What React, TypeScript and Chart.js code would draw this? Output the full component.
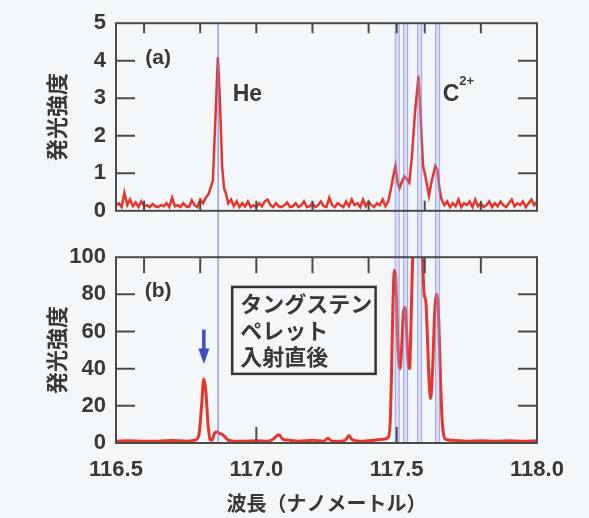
import React, { useEffect, useRef } from "react";
import { Chart, registerables } from "chart.js";
Chart.register(...registerables);

// ---------- data ----------
const waveA = [
  116.50, 116.51, 116.52, 116.53, 116.54, 116.55, 116.56, 116.57, 116.58, 116.59,
  116.60, 116.61, 116.62, 116.63, 116.64, 116.65, 116.66, 116.67, 116.68, 116.69,
  116.70, 116.71, 116.72, 116.73, 116.74, 116.75, 116.76, 116.77, 116.78, 116.79,
  116.80, 116.81, 116.82, 116.83, 116.845, 116.855, 116.863, 116.870, 116.878, 116.885,
  116.89, 116.90, 116.91, 116.92, 116.93, 116.94, 116.95, 116.96, 116.97, 116.98,
  116.99, 117.00, 117.01, 117.02, 117.03, 117.04, 117.05, 117.06, 117.07, 117.08,
  117.09, 117.10, 117.11, 117.12, 117.13, 117.14, 117.15, 117.16, 117.17, 117.18,
  117.19, 117.20, 117.21, 117.22, 117.23, 117.24, 117.25, 117.26, 117.27, 117.28,
  117.29, 117.30, 117.31, 117.32, 117.33, 117.34, 117.35, 117.36, 117.37, 117.38,
  117.39, 117.40, 117.41, 117.42, 117.43, 117.44, 117.45, 117.46, 117.47, 117.48,
  117.49, 117.496, 117.503, 117.51, 117.52, 117.528, 117.535, 117.545, 117.555, 117.565,
  117.578, 117.586, 117.594, 117.600, 117.608, 117.615, 117.625, 117.638, 117.645, 117.652,
  117.66, 117.67, 117.68, 117.69, 117.70, 117.71, 117.72, 117.73, 117.74, 117.75,
  117.76, 117.77, 117.78, 117.79, 117.80, 117.81, 117.82, 117.83, 117.84, 117.85,
  117.86, 117.87, 117.88, 117.89, 117.90, 117.91, 117.92, 117.93, 117.94, 117.95,
  117.96, 117.97, 117.98, 117.99, 118.00,
];
const intensityA = [
  0.15, 0.2, 0.1, 0.48, 0.15, 0.3, 0.12, 0.22, 0.1, 0.25,
  0.12, 0.15, 0.1, 0.18, 0.12, 0.1, 0.15, 0.12, 0.2, 0.1,
  0.35, 0.12, 0.15, 0.1, 0.2, 0.12, 0.1, 0.28, 0.15, 0.1,
  0.3, 0.2, 0.35, 0.45, 0.8, 2.6, 4.1, 3.0, 1.2, 0.6,
  0.5, 0.2, 0.3, 0.12, 0.25, 0.1, 0.2, 0.12, 0.25, 0.1,
  0.15, 0.1, 0.2, 0.12, 0.25, 0.3, 0.15, 0.1, 0.2, 0.12,
  0.1, 0.15, 0.22, 0.1, 0.12, 0.2, 0.1, 0.15, 0.25, 0.1,
  0.12, 0.2, 0.1, 0.15, 0.25, 0.12, 0.1, 0.35, 0.15, 0.1,
  0.2, 0.15, 0.1, 0.25, 0.12, 0.3, 0.15, 0.2, 0.1, 0.3,
  0.12, 0.25, 0.15, 0.1, 0.2, 0.15, 0.3, 0.12, 0.25, 0.6,
  1.0, 1.2, 0.75, 0.6, 0.8, 0.92, 0.85, 0.75, 1.5, 2.6,
  3.6, 2.4, 1.2, 1.0, 0.7, 0.4, 0.8, 1.2, 1.1, 0.6,
  0.3, 0.15, 0.25, 0.1, 0.2, 0.12, 0.3, 0.1, 0.2, 0.15,
  0.25, 0.1, 0.3, 0.12, 0.2, 0.1, 0.15, 0.25, 0.1, 0.2,
  0.12, 0.25, 0.15, 0.1, 0.2, 0.3, 0.12, 0.2, 0.15, 0.25,
  0.1, 0.2, 0.3, 0.15, 0.25,
];

const waveB = [
  116.50, 116.55, 116.60, 116.65, 116.70, 116.75, 116.78, 116.795, 116.805, 116.813,
  116.82, 116.828, 116.835, 116.842, 116.85, 116.86, 116.87, 116.88, 116.89, 116.90,
  116.92, 116.95, 117.00, 117.04, 117.06, 117.08, 117.095, 117.12, 117.15, 117.20,
  117.24, 117.255, 117.27, 117.30, 117.32, 117.33, 117.34, 117.37, 117.42, 117.45,
  117.47, 117.478, 117.484, 117.49, 117.494, 117.499, 117.505, 117.512, 117.518, 117.524,
  117.53, 117.535, 117.54, 117.546, 117.552, 117.558, 117.565, 117.585, 117.592, 117.598,
  117.604, 117.61, 117.616, 117.621, 117.628, 117.636, 117.644, 117.65, 117.656, 117.662,
  117.668, 117.675, 117.70, 117.75, 117.80, 117.85, 117.90, 117.95, 118.00,
];
const intensityB = [
  1, 1.2, 1, 1, 1.3, 1, 1.5, 4, 20, 34.5,
  28, 10, 2, 1.5, 5, 6, 5, 4.5, 3, 1.5,
  1, 1, 1.2, 1, 2, 4.5, 2, 1.5, 1, 1.5,
  1, 2.5, 1, 1, 2, 4, 2, 1, 1.5, 2,
  3, 15, 55, 90, 93, 80, 50, 40, 52, 70,
  73, 62, 45, 40, 70, 105, 125, 125, 100, 80,
  76, 55, 32, 24, 40, 72, 80, 65, 35, 12,
  4, 2, 1.5, 1, 1.2, 1, 1.2, 1, 1.2,
];

const xLabelStep = 0.5; // 116.5, 117.0, 117.5, 118.0
const innerTicksTopA = [116.6, 116.8, 117.0, 117.2, 117.4, 117.5, 117.6, 117.8];
const innerTicks02 = [116.6, 116.8, 117.0, 117.2, 117.4, 117.6, 117.8];
const innerTicksBottomB = [117.0, 117.5];
const yTicksA = [1, 2, 3, 4];
const yTicksB = [20, 40, 60, 80];
const lineWaves = [116.864, 117.502, 117.532, 117.582, 117.646];

// annotation anchors (data units)
const labelAPos = [116.65, 4.08];
const heLabelPos = [116.968, 3.1];
const cLabelPos = [117.664, 3.1];
const labelBPos = [116.65, 81.9];
const boxRange = [116.914, 117.425, 84, 37.2];
const boxTextX = 116.943;
const boxTextY = [75, 60.6, 46.3];
const boxLines = ["タングステン", "ペレット", "入射直後"];
const arrowPos = [116.813, 61, 42.5];

// ---------- styles ----------
const BG = "#f4f7fa";
const TEXT = "#383838";
const FRAME = "#4a4a4a";
const RED = "#e8352b";
const NUM_FONT = "'Liberation Sans', Arial, sans-serif";
const JP_FONT = "'Noto Sans CJK JP', 'Noto Sans CJK SC', sans-serif";

type PanelCfg = {
  linesUp: boolean;
  topTicks: number[];
  bottomTicks: number[];
  xTickLen: number;
  yTicks: number[];
  annotate: (chart: any) => void;
};

function panelPlugin(cfg: PanelCfg) {
  return {
    id: "panel",
    afterDatasetsDraw(chart: any) {
      const { ctx, chartArea: a, scales } = chart;
      const x = scales.x;
      const y = scales.y;
      ctx.save();
      // vertical reference lines
      lineWaves.forEach((w, i) => {
        const px = x.getPixelForValue(w);
        const y0 = cfg.linesUp ? 0 : a.top;
        const y1 = cfg.linesUp ? a.bottom : chart.height;
        if (i === 0) {
          ctx.strokeStyle = "rgba(120,126,225,0.75)";
          ctx.lineWidth = 1.5;
          ctx.beginPath();
          ctx.moveTo(px, y0);
          ctx.lineTo(px, y1);
          ctx.stroke();
        } else {
          ctx.fillStyle = "rgba(170,175,235,0.35)";
          ctx.fillRect(px - 2, y0, 4, y1 - y0);
          ctx.strokeStyle = "rgba(110,116,215,0.6)";
          ctx.lineWidth = 1;
          ctx.beginPath();
          ctx.moveTo(px - 2, y0);
          ctx.lineTo(px - 2, y1);
          ctx.moveTo(px + 2, y0);
          ctx.lineTo(px + 2, y1);
          ctx.stroke();
        }
      });
      // inner ticks
      ctx.strokeStyle = FRAME;
      ctx.lineWidth = 2;
      ctx.beginPath();
      cfg.topTicks.forEach((t) => {
        const px = x.getPixelForValue(t);
        ctx.moveTo(px, a.top);
        ctx.lineTo(px, a.top + cfg.xTickLen);
      });
      cfg.bottomTicks.forEach((t) => {
        const px = x.getPixelForValue(t);
        ctx.moveTo(px, a.bottom);
        ctx.lineTo(px, a.bottom - cfg.xTickLen);
      });
      cfg.yTicks.forEach((t) => {
        const py = y.getPixelForValue(t);
        ctx.moveTo(a.left, py);
        ctx.lineTo(a.left + 19, py);
        ctx.moveTo(a.right, py);
        ctx.lineTo(a.right - 19, py);
      });
      ctx.stroke();
      // frame
      ctx.strokeRect(a.left, a.top, a.right - a.left, a.bottom - a.top);
      cfg.annotate(chart);
      ctx.restore();
    },
  };
}

function baseOptions(ymax: number, step: number, pad: any, showX: boolean) {
  return {
    animation: false,
    responsive: false,
    events: [],
    layout: { padding: pad },
    plugins: { legend: { display: false }, tooltip: { enabled: false } },
    scales: {
      x: showX
        ? {
            type: "linear",
            min: 116.5,
            max: 118,
            afterFit: (s: any) => {
              s.height = 75;
            },
            grid: { display: false, drawTicks: false },
            border: { display: false },
            ticks: {
              stepSize: xLabelStep,
              autoSkip: false,
              maxRotation: 0,
              padding: 14,
              color: TEXT,
              font: { family: NUM_FONT, size: 22, weight: "bold" },
              callback: (v: any) => Number(v).toFixed(1),
            },
            title: {
              display: true,
              text: "波長（ナノメートル）",
              color: TEXT,
              font: { family: JP_FONT, size: 20, weight: "bold" },
              padding: { top: 0, bottom: 3 },
            },
          }
        : { type: "linear", min: 116.5, max: 118, display: false },
      y: {
        min: 0,
        max: ymax,
        afterFit: (s: any) => {
          s.width = 116;
        },
        grid: { display: false, drawTicks: false },
        border: { display: false },
        ticks: {
          stepSize: step,
          padding: 10,
          color: TEXT,
          font: { family: NUM_FONT, size: 22, weight: "bold" },
        },
        title: {
          display: true,
          text: "発光強度",
          color: TEXT,
          font: { family: JP_FONT, size: 22, weight: "bold" },
          padding: { top: 43, bottom: 0 },
        },
      },
    },
  };
}

function annotateA(chart: any) {
  const { ctx, scales } = chart;
  const x = scales.x;
  const y = scales.y;
  ctx.fillStyle = TEXT;
  ctx.textBaseline = "middle";
  ctx.textAlign = "center";
  ctx.font = `bold 21px ${NUM_FONT}`;
  ctx.fillText("(a)", x.getPixelForValue(labelAPos[0]), y.getPixelForValue(labelAPos[1]));
  ctx.font = `bold 23px ${NUM_FONT}`;
  ctx.fillText("He", x.getPixelForValue(heLabelPos[0]), y.getPixelForValue(heLabelPos[1]));
  ctx.textAlign = "left";
  const cx = x.getPixelForValue(cLabelPos[0]);
  const cy = y.getPixelForValue(cLabelPos[1]);
  ctx.fillText("C", cx, cy);
  const w = ctx.measureText("C").width;
  ctx.font = `bold 13px ${NUM_FONT}`;
  ctx.fillText("2+", cx + w, cy - 13);
}

function annotateB(chart: any) {
  const { ctx, scales } = chart;
  const x = scales.x;
  const y = scales.y;
  ctx.fillStyle = TEXT;
  ctx.textBaseline = "middle";
  ctx.textAlign = "center";
  ctx.font = `bold 21px ${NUM_FONT}`;
  ctx.fillText("(b)", x.getPixelForValue(labelBPos[0]), y.getPixelForValue(labelBPos[1]));
  // box
  const bx0 = x.getPixelForValue(boxRange[0]);
  const bx1 = x.getPixelForValue(boxRange[1]);
  const by0 = y.getPixelForValue(boxRange[2]);
  const by1 = y.getPixelForValue(boxRange[3]);
  ctx.strokeStyle = "#333";
  ctx.lineWidth = 2.5;
  ctx.strokeRect(bx0, by0, bx1 - bx0, by1 - by0);
  ctx.textAlign = "left";
  ctx.font = `bold 22px ${JP_FONT}`;
  boxLines.forEach((t, i) => {
    ctx.fillText(t, x.getPixelForValue(boxTextX), y.getPixelForValue(boxTextY[i]));
  });
  // arrow
  const ax = x.getPixelForValue(arrowPos[0]);
  const ay0 = y.getPixelForValue(arrowPos[1]);
  const ay1 = y.getPixelForValue(arrowPos[2]);
  ctx.fillStyle = "#3d4fc4";
  ctx.fillRect(ax - 1.75, ay0, 3.5, (ay1 - ay0) * 0.6);
  ctx.beginPath();
  ctx.moveTo(ax - 5.5, ay0 + (ay1 - ay0) * 0.55);
  ctx.lineTo(ax + 5.5, ay0 + (ay1 - ay0) * 0.55);
  ctx.lineTo(ax, ay1);
  ctx.closePath();
  ctx.fill();
}

export default function App() {
  const topRef = useRef<HTMLCanvasElement>(null);
  const botRef = useRef<HTMLCanvasElement>(null);

  useEffect(() => {
    const top = new Chart(topRef.current as HTMLCanvasElement, {
      type: "line",
      data: {
        datasets: [
          {
            data: waveA.map((w, i) => ({ x: w, y: intensityA[i] })),
            borderColor: RED,
            borderWidth: 2.5,
            pointRadius: 0,
            tension: 0,
            clip: 0,
          },
        ],
      },
      options: baseOptions(5, 1, { top: 23, right: 52, bottom: 21, left: 0 }, false) as any,
      plugins: [
        panelPlugin({
          linesUp: false,
          topTicks: innerTicksTopA,
          bottomTicks: innerTicks02,
          xTickLen: 10,
          yTicks: yTicksA,
          annotate: annotateA,
        }),
      ],
    });
    const bot = new Chart(botRef.current as HTMLCanvasElement, {
      type: "line",
      data: {
        datasets: [
          {
            data: waveB.map((w, i) => ({ x: w, y: intensityB[i] })),
            borderColor: RED,
            borderWidth: 3,
            pointRadius: 0,
            cubicInterpolationMode: "monotone",
            clip: 0,
          },
        ],
      },
      options: baseOptions(100, 20, { top: 21, right: 52, bottom: 0, left: 0 }, true) as any,
      plugins: [
        panelPlugin({
          linesUp: true,
          topTicks: innerTicks02,
          bottomTicks: innerTicksBottomB,
          xTickLen: 16,
          yTicks: yTicksB,
          annotate: annotateB,
        }),
      ],
    });
    return () => {
      top.destroy();
      bot.destroy();
    };
  }, []);

  return (
    <div
      style={{
        position: "absolute",
        left: 0,
        top: 0,
        width: 589,
        height: 518,
        background: BG,
        overflow: "hidden",
      }}
    >
      <canvas ref={topRef} width={589} height={234} style={{ position: "absolute", left: 0, top: 0, display: "block" }} />
      <canvas ref={botRef} width={589} height={284} style={{ position: "absolute", left: 0, top: 234, display: "block" }} />
    </div>
  );
}
